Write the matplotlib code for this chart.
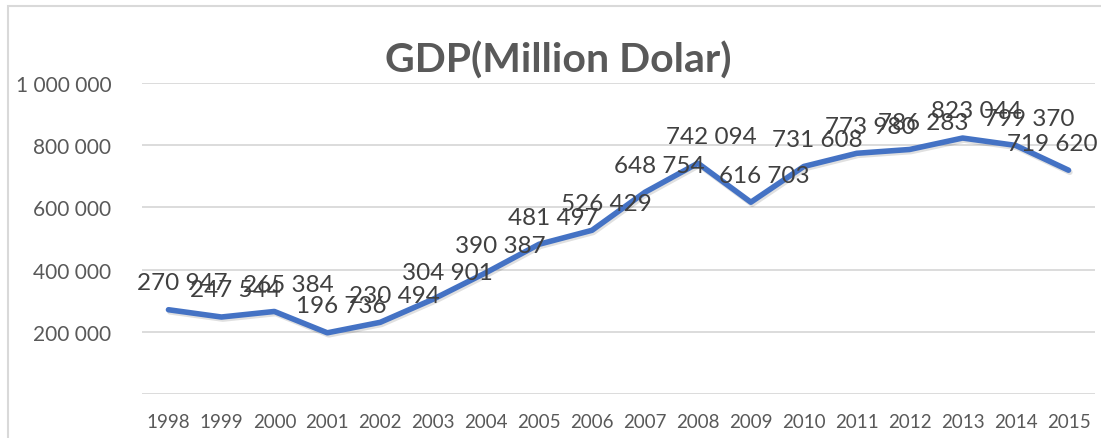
import numpy as np
import matplotlib
matplotlib.use("Agg")
import matplotlib.pyplot as plt
import matplotlib.patheffects as pe
from matplotlib.patches import Rectangle

years = ["1998", "1999", "2000", "2001", "2002", "2003", "2004", "2005", "2006",
         "2007", "2008", "2009", "2010", "2011", "2012", "2013", "2014", "2015"]
gdp = [270947, 247544, 265384, 196736, 230494, 304901, 390387, 481497, 526429,
       648754, 742094, 616703, 731608, 773980, 786283, 823044, 799370, 719620]
yticks = [0, 200000, 400000, 600000, 800000, 1000000]
ytick_labels = ["", "200 000", "400 000", "600 000", "800 000", "1 000 000"]

plt.rcParams['font.family'] = ['Lato', 'DejaVu Sans']
grey = '#595959'

fig = plt.figure(figsize=(11.01, 4.39), dpi=100)
fig.patches.append(Rectangle((8 / 1101, -0.1), 1.2, 1 - 7 / 439 + 0.1,
                             transform=fig.transFigure, fill=False,
                             edgecolor='#d9d9d9', linewidth=1.5))

ax = fig.add_axes([142 / 1101, 1 - 395 / 439, (1095 - 142) / 1101, (395 - 84) / 439])
x = np.arange(len(years))
ax.plot(x, gdp, color='#4472c4', linewidth=4, solid_capstyle='round',
        solid_joinstyle='round',
        path_effects=[pe.SimpleLineShadow(offset=(1, -1.5), shadow_color='black', alpha=0.12),
                      pe.Normal()])

for xi, v in zip(x, gdp):
    label = f"{v:,}".replace(",", " ")
    dx = 10
    if xi == len(years) - 1:
        dx = -12
    ax.annotate(label, (xi, v), xytext=(dx, 12), textcoords='offset points',
                ha='center', va='bottom', fontsize=17.5, color='#404040')

ax.set_xlim(-0.5, len(years) - 0.5)
ax.set_ylim(0, 1000000)
ax.set_xticks(x)
ax.set_xticklabels(years, fontsize=13.5, color=grey)
ax.set_yticks(yticks)
ax.set_yticklabels(ytick_labels, fontsize=15, color=grey)
ax.tick_params(length=0, pad=14)
ax.tick_params(axis='y', pad=22)
ax.grid(axis='y', color='#d9d9d9', linewidth=1.3)
ax.set_axisbelow(True)
for s in ax.spines.values():
    s.set_visible(False)

fig.text(558 / 1101, 1 - 61 / 439, "GDP(Million Dolar)", ha='center', va='center',
         fontsize=29.5, fontweight='bold', color=grey)

fig.savefig("out.png", dpi=100)
